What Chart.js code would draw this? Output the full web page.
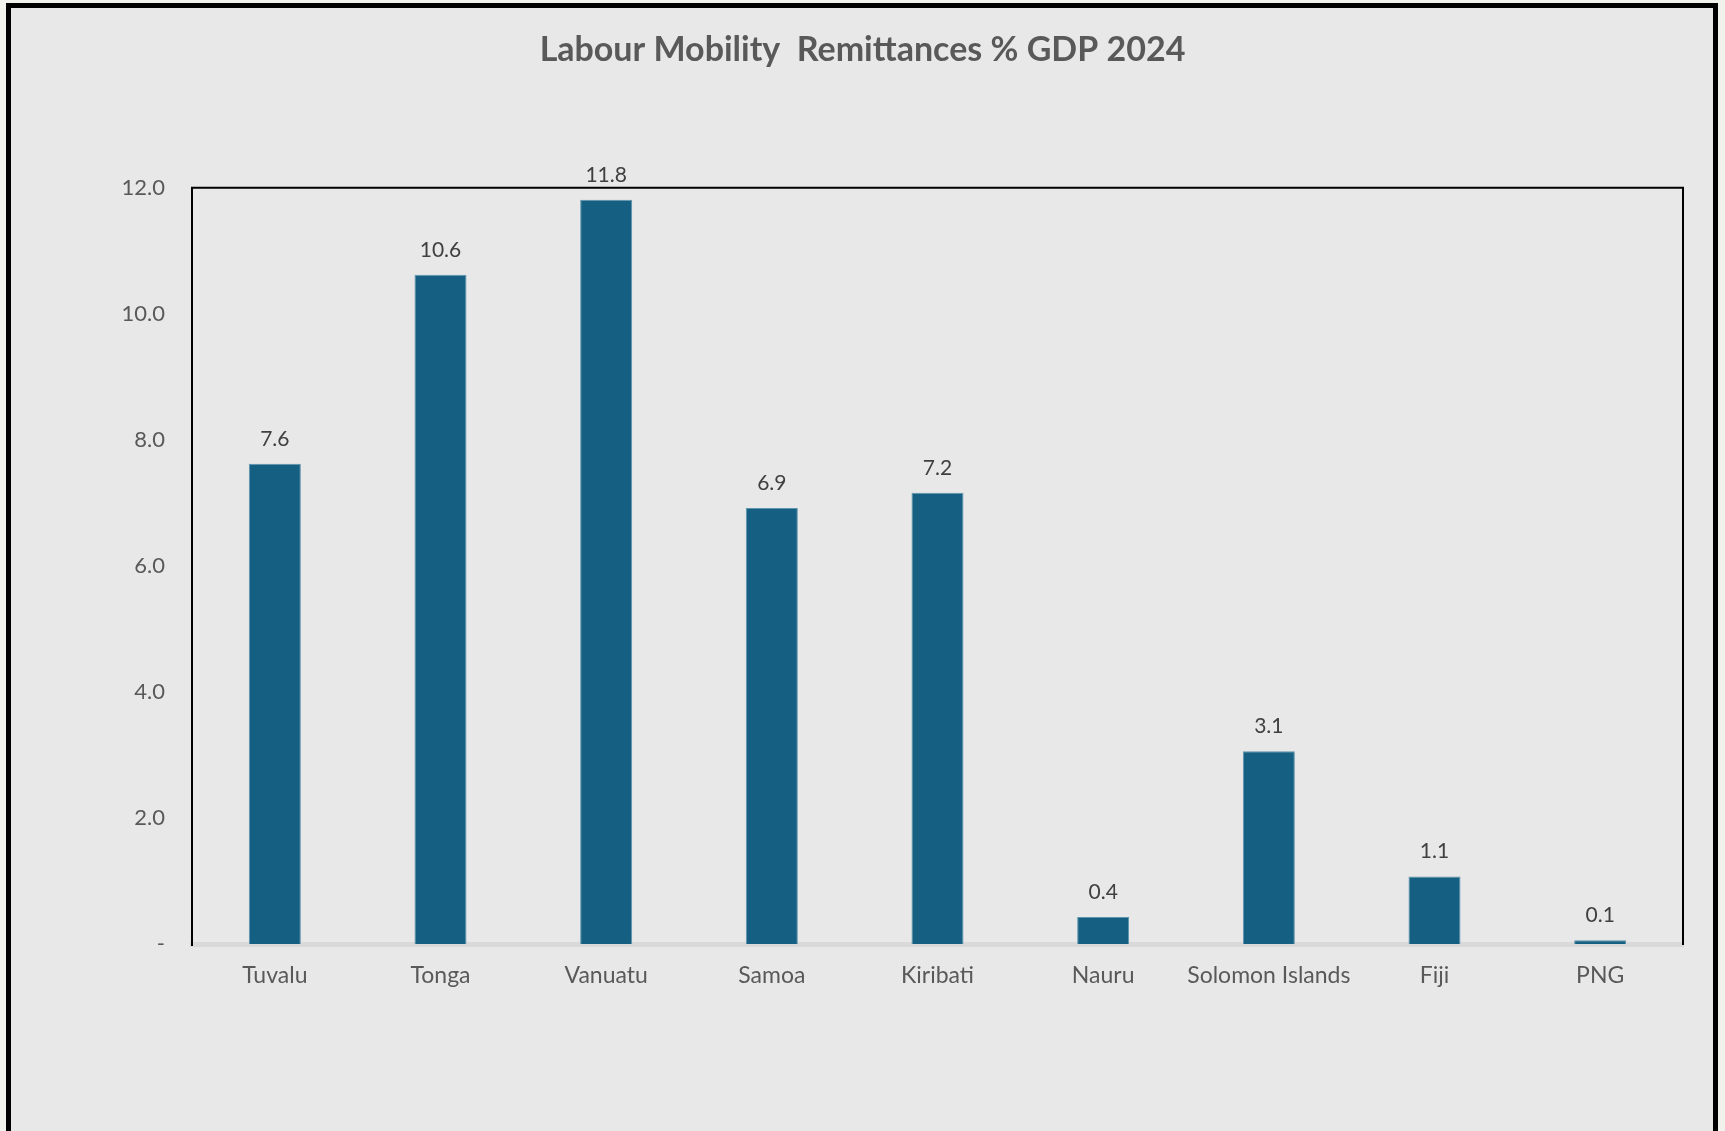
<!DOCTYPE html>
<html lang="en">
<head>
    <meta charset="UTF-8">
    <title>Labour Mobility Remittances % GDP 2024</title>
    <script src="https://cdn.jsdelivr.net/npm/chart.js@4.4.1/dist/chart.umd.min.js"></script>
    <style>
        body{
            margin: 0;
            padding: 0;
            background-color: #f2f2ec;
            overflow: hidden;
        }
        .frame{
            position: absolute;
            left: 6px;
            top: 3px;
            width: 1702px;
            height: 1150px;
            border: 5px solid #000;
            background-color: #e8e8e8;
        }
        .wrap{
            position: absolute;
            left: 0;
            top: 0;
            width: 1725px;
            height: 1131px;
        }
    </style>
</head>
<body>
    <div class="frame"></div>
    <div class="wrap"><canvas id="mychart" width="1725" height="1131"></canvas></div>
    <script>
        const countries = ['Tuvalu', 'Tonga', 'Vanuatu', 'Samoa', 'Kiribati', 'Nauru', 'Solomon Islands', 'Fiji', 'PNG'];
        const remittances = [7.62, 10.62, 11.81, 6.92, 7.16, 0.43, 3.06, 1.07, 0.06];
        const yTicks = [0, 2, 4, 6, 8, 10, 12];

        // value labels above the bars
        const barLabels = {
            id: 'barLabels',
            afterDatasetsDraw(chart) {
                const ctx = chart.ctx;
                const meta = chart.getDatasetMeta(0);
                ctx.save();
                ctx.font = '21px Lato';
                ctx.fillStyle = '#404040';
                ctx.textAlign = 'center';
                ctx.textBaseline = 'middle';
                meta.data.forEach(function(bar, i) {
                    ctx.fillText(remittances[i].toFixed(1), bar.x, bar.y - 25);
                });
                ctx.restore();
            }
        };

        // black frame on top, left and right of the plot area
        const plotFrame = {
            id: 'plotFrame',
            afterDraw(chart) {
                const a = chart.chartArea;
                const ctx = chart.ctx;
                ctx.save();
                ctx.strokeStyle = '#000';
                ctx.lineWidth = 2;
                ctx.beginPath();
                ctx.moveTo(a.left, a.bottom + 2);
                ctx.lineTo(a.left, a.top);
                ctx.lineTo(a.right, a.top);
                ctx.lineTo(a.right, a.bottom + 1);
                ctx.stroke();
                ctx.restore();
            }
        };

        const mychart = document.getElementById('mychart').getContext('2d');
        const barchart = new Chart(mychart, {
            type: 'bar',
            data: {
                labels: countries,
                datasets: [{
                    label: 'Remittances % GDP',
                    data: remittances,
                    backgroundColor: '#156082',
                    borderColor: '#5d94ad',
                    borderWidth: 1,
                    barPercentage: 0.314,
                    categoryPercentage: 1
                }]
            },
            plugins: [barLabels, plotFrame],
            options: {
                responsive: false,
                animation: false,
                layout: {
                    padding: { left: 42, right: 42, top: 0, bottom: 120 }
                },
                plugins: {
                    legend: { display: false },
                    tooltip: { enabled: false },
                    title: {
                        display: true,
                        text: 'Labour Mobility  Remittances % GDP 2024',
                        color: '#595959',
                        font: { family: 'Lato', size: 34, weight: 'bold' },
                        padding: { top: 30, bottom: 117 }
                    }
                },
                scales: {
                    x: {
                        grid: { display: false, drawTicks: false },
                        border: { display: true, color: '#d9d9d9', width: 5 },
                        ticks: {
                            color: '#595959',
                            font: { family: 'Lato', size: 23 },
                            padding: 18,
                            maxRotation: 0,
                            autoSkip: false
                        },
                        afterFit(scale) { scale.height = 67; }
                    },
                    y: {
                        min: 0,
                        max: 12,
                        afterBuildTicks(scale) {
                            scale.ticks = yTicks.map(function(v) { return { value: v }; });
                        },
                        grid: { display: false, drawTicks: false },
                        border: { display: false },
                        ticks: {
                            color: '#595959',
                            font: { family: 'Lato', size: 22 },
                            padding: 27,
                            callback: function(v) { return v === 0 ? '-' : v.toFixed(1); }
                        },
                        afterFit(scale) { scale.width = 150; }
                    }
                }
            }
        });
    </script>
</body>
</html>
